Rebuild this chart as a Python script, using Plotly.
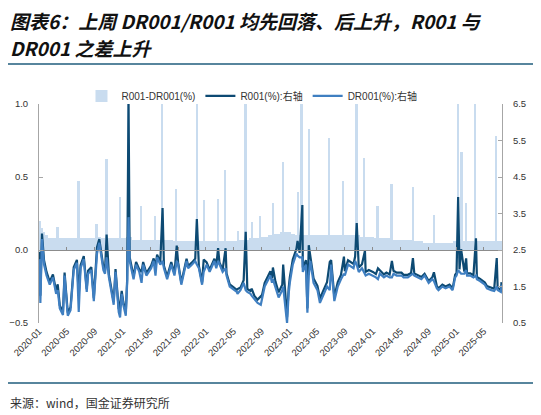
import pandas as pd
import plotly.graph_objects as go

dates = [
    # 2020
    "2020-01-02", "2020-01-07", "2020-01-14", "2020-01-23", "2020-02-03", "2020-02-17", "2020-03-02",
    "2020-03-16", "2020-03-23", "2020-04-01", "2020-04-15", "2020-04-22", "2020-05-06", "2020-05-18",
    "2020-06-01", "2020-06-15", "2020-06-23", "2020-07-01", "2020-07-15", "2020-07-28", "2020-08-03",
    "2020-08-17", "2020-08-28", "2020-09-11", "2020-09-21", "2020-10-09", "2020-10-16", "2020-10-23",
    "2020-11-02", "2020-11-16", "2020-11-23", "2020-12-01", "2020-12-15", "2020-12-21", "2020-12-28",
    # 2021
    "2021-01-04", "2021-01-15", "2021-01-21", "2021-01-27", "2021-02-01", "2021-02-18", "2021-03-01",
    "2021-03-15", "2021-03-25", "2021-04-01", "2021-04-15", "2021-05-06", "2021-05-17", "2021-05-25",
    "2021-06-01", "2021-06-15", "2021-06-25", "2021-07-01", "2021-07-15", "2021-08-02", "2021-08-16",
    "2021-08-26", "2021-09-01", "2021-09-15", "2021-10-08", "2021-10-15", "2021-11-01", "2021-11-15",
    "2021-11-22", "2021-12-01", "2021-12-15", "2021-12-22",
    # 2022
    "2022-01-04", "2022-01-17", "2022-02-07", "2022-02-15", "2022-02-23", "2022-03-01", "2022-03-15",
    "2022-03-28", "2022-04-01", "2022-04-15", "2022-05-05", "2022-05-16", "2022-05-19", "2022-06-01",
    "2022-06-15", "2022-06-24", "2022-07-01", "2022-07-15", "2022-07-20", "2022-08-01", "2022-08-15",
    "2022-08-29", "2022-09-01", "2022-09-15", "2022-10-10", "2022-10-17", "2022-10-21", "2022-11-01",
    "2022-11-15", "2022-12-01", "2022-12-05", "2022-12-15", "2022-12-22", "2022-12-29",
    # 2023
    "2023-01-03", "2023-01-16", "2023-02-01", "2023-02-06", "2023-02-15", "2023-02-27", "2023-03-01",
    "2023-03-15", "2023-03-21", "2023-03-27", "2023-04-03", "2023-04-17", "2023-05-04", "2023-05-15",
    "2023-06-01", "2023-06-15", "2023-06-27", "2023-07-03", "2023-07-17", "2023-08-01", "2023-08-15",
    "2023-08-28", "2023-09-01", "2023-09-15", "2023-10-09", "2023-10-16", "2023-10-23", "2023-11-01",
    "2023-11-15", "2023-11-28", "2023-12-01", "2023-12-15",
    # 2024
    "2024-01-02", "2024-01-15", "2024-01-24", "2024-02-01", "2024-02-19", "2024-03-01", "2024-03-15",
    "2024-03-25", "2024-04-01", "2024-04-15", "2024-05-06", "2024-05-15", "2024-06-03", "2024-06-17",
    "2024-06-25", "2024-07-01", "2024-07-15", "2024-08-01", "2024-08-15", "2024-09-02", "2024-09-18",
    "2024-09-25", "2024-10-08", "2024-10-15", "2024-11-01", "2024-11-15", "2024-12-02", "2024-12-16",
    "2024-12-27",
    # 2025
    "2025-01-02", "2025-01-09", "2025-01-15", "2025-01-22", "2025-02-05", "2025-02-13", "2025-02-17",
    "2025-03-03", "2025-03-17", "2025-03-28", "2025-04-01", "2025-04-15", "2025-05-06", "2025-05-15",
    "2025-06-03", "2025-06-16", "2025-06-27", "2025-07-01", "2025-07-15", "2025-07-18",
]

dr001 = [
    2.25, 1.05, 2.80, 2.10, 1.80, 1.55, 1.75, 1.30, 1.40, 0.90, 0.72, 1.80, 0.70, 0.85,
    1.95, 2.15, 0.80, 2.00, 2.25, 1.35, 1.85, 1.95, 1.10, 2.40, 2.70, 1.95, 1.85, 2.30,
    1.75, 1.30, 1.00, 1.90, 0.80, 0.65, 1.30,
    1.00, 0.70, 1.60, 3.40, 2.20, 1.70, 2.10, 1.90, 1.60, 2.10, 1.80, 2.00, 2.20, 1.80,
    2.30, 2.10, 2.20, 2.00, 1.70, 2.10, 1.80, 2.20, 2.10, 1.55, 2.20, 2.00, 2.10, 2.20,
    2.10, 2.00, 1.55, 1.90,
    2.10, 1.90, 2.20, 2.00, 2.20, 2.10, 1.90, 2.00, 1.80, 1.50, 1.40, 1.35, 1.30, 1.40,
    1.60, 1.40, 1.35, 1.30, 1.25, 1.15, 1.05, 1.00, 1.10, 1.50, 1.80, 1.60, 1.70, 1.50,
    1.20, 1.40, 1.50, 0.90, 0.50, 1.30,
    1.60, 2.10, 2.40, 2.35, 2.30, 2.30, 1.90, 2.10, 0.78, 1.80, 2.20, 1.60, 1.40, 1.05,
    1.30, 1.50, 1.40, 2.10, 1.10, 1.50, 1.70, 1.85, 1.80, 2.10, 2.00, 2.20, 2.10, 1.90,
    2.00, 1.85, 1.80, 1.85,
    1.80, 1.75, 1.70, 1.85, 1.75, 1.80, 1.75, 1.75, 1.85, 1.80, 1.80, 1.75, 1.75, 1.80,
    1.85, 1.80, 1.75, 1.70, 1.80, 1.60, 1.70, 1.65, 1.45, 1.40, 1.50, 1.45, 1.50, 1.40,
    1.75,
    1.80, 1.95, 1.90, 1.85, 1.85, 1.95, 1.80, 1.80, 1.75, 1.80, 1.70, 1.65, 1.55, 1.45,
    1.40, 1.38, 1.50, 1.40, 1.35, 1.55,
]

r001 = [
    2.45, 1.25, 2.95, 2.22, 1.90, 1.63, 1.83, 1.38, 1.56, 0.98, 0.80, 1.88, 0.78, 0.93,
    2.03, 2.23, 1.27, 2.08, 2.33, 1.43, 1.93, 2.03, 1.18, 2.58, 2.80, 2.03, 1.93, 2.92,
    1.83, 1.38, 1.08, 1.98, 0.88, 1.01, 1.38,
    1.08, 0.78, 1.70, 6.60, 2.30, 1.78, 2.17, 1.97, 1.90, 2.17, 1.87, 2.07, 2.27, 2.03,
    2.37, 2.17, 3.65, 2.07, 1.77, 2.17, 1.86, 2.62, 2.16, 1.61, 2.26, 2.06, 2.16, 2.26,
    3.35, 2.06, 1.61, 2.24,
    2.16, 1.96, 2.26, 2.06, 2.55, 2.16, 1.96, 2.55, 1.86, 1.56, 1.46, 1.41, 1.43, 1.47,
    1.67, 3.00, 1.43, 1.38, 1.44, 1.24, 1.14, 1.23, 1.20, 1.60, 1.92, 1.72, 2.02, 1.64,
    1.34, 1.55, 2.10, 1.06, 0.66, 1.45,
    1.75, 2.24, 2.53, 2.75, 2.42, 3.73, 2.02, 2.22, 0.90, 2.63, 2.32, 1.72, 1.52, 1.17,
    1.42, 1.62, 2.17, 2.22, 1.22, 1.62, 1.82, 2.32, 1.92, 2.22, 2.12, 2.32, 3.24, 2.02,
    2.11, 2.48, 1.90, 1.95,
    1.90, 1.84, 2.00, 1.94, 1.83, 1.88, 1.83, 2.20, 1.93, 1.88, 1.88, 1.82, 1.82, 1.87,
    2.28, 1.86, 1.81, 1.76, 1.85, 1.65, 1.75, 1.89, 1.50, 1.45, 1.55, 1.50, 1.55, 1.45,
    1.82,
    1.87, 3.95, 1.97, 2.52, 1.91, 2.27, 1.86, 1.86, 1.81, 2.82, 1.76, 1.71, 1.61, 1.51,
    1.46, 1.44, 2.28, 1.46, 1.41, 1.62,
]

spread = [
    0.20, 0.20, 0.15, 0.12, 0.10, 0.08, 0.08, 0.08, 0.16, 0.08, 0.08, 0.08, 0.08, 0.08,
    0.08, 0.08, 0.47, 0.08, 0.08, 0.08, 0.08, 0.08, 0.08, 0.18, 0.09, 0.08, 0.08, 0.62,
    0.08, 0.08, 0.08, 0.08, 0.08, 0.36, 0.08,
    0.08, 0.08, 0.09, 3.20, 0.09, 0.07, 0.07, 0.07, 0.30, 0.07, 0.07, 0.07, 0.07, 0.23,
    0.07, 0.07, 1.45, 0.07, 0.07, 0.07, 0.06, 0.42, 0.06, 0.06, 0.06, 0.06, 0.06, 0.06,
    1.25, 0.06, 0.06, 0.34,
    0.06, 0.06, 0.06, 0.06, 0.35, 0.06, 0.06, 0.55, 0.06, 0.06, 0.06, 0.06, 0.13, 0.07,
    0.07, 1.60, 0.07, 0.08, 0.19, 0.08, 0.08, 0.23, 0.09, 0.09, 0.10, 0.10, 0.32, 0.11,
    0.11, 0.12, 0.60, 0.12, 0.12, 0.12,
    0.12, 0.11, 0.10, 0.40, 0.10, 1.43, 0.10, 0.10, 0.10, 0.83, 0.10, 0.10, 0.10, 0.10,
    0.10, 0.10, 0.77, 0.10, 0.10, 0.10, 0.10, 0.47, 0.10, 0.10, 0.10, 0.10, 1.14, 0.10,
    0.09, 0.63, 0.09, 0.09,
    0.09, 0.08, 0.30, 0.08, 0.08, 0.08, 0.08, 0.45, 0.07, 0.07, 0.07, 0.07, 0.07, 0.07,
    0.43, 0.06, 0.06, 0.06, 0.05, 0.05, 0.05, 0.24, 0.05, 0.05, 0.05, 0.05, 0.05, 0.05,
    0.06,
    0.06, 2.00, 0.06, 0.67, 0.06, 0.32, 0.06, 0.06, 0.06, 1.02, 0.06, 0.06, 0.06, 0.06,
    0.06, 0.06, 0.78, 0.06, 0.06, 0.06,
]

tick_dates = pd.date_range("2020-01-01", "2025-05-01", freq="4MS")
tick_text = [d.strftime("%Y-%m") for d in tick_dates]

C_SPREAD = "#c9dcef"
C_R001 = "#0d4a73"
C_DR001 = "#3f7fc1"
C_RULE = "#1f5d7c"
FONT = "Liberation Sans, Arial, Noto Sans CJK SC"

# bars tile the time line: each one spans half way to its neighbours
dt = pd.to_datetime(dates)
ms = dt.astype("int64") // 10**6
day = 86400000
left = [(ms[i] - ms[i - 1]) / 2 if i > 0 else day for i in range(len(ms))]
right = [(ms[i + 1] - ms[i]) / 2 if i < len(ms) - 1 else day for i in range(len(ms))]
widths = [l + r for l, r in zip(left, right)]
offsets = [-l for l in left]

fig = go.Figure()
fig.add_trace(go.Bar(
    x=dt, y=spread, width=widths, offset=offsets, name="R001-DR001(%)",
    marker=dict(color=C_SPREAD, line=dict(width=0)), xaxis="x", yaxis="y",
))
fig.add_trace(go.Scatter(
    x=dt, y=r001, mode="lines", name="R001(%):右轴",
    line=dict(color=C_R001, width=2.2), xaxis="x2", yaxis="y2",
))
fig.add_trace(go.Scatter(
    x=dt, y=dr001, mode="lines", name="DR001(%):右轴",
    line=dict(color=C_DR001, width=2.2), xaxis="x2", yaxis="y2",
))

# the page body has an 8px margin, so the figure is 8px smaller than the window
xrange_ = ["2020-01-01", "2025-07-20"]
fig.update_layout(
    width=533, height=407,
    margin=dict(l=31, r=39, t=96, b=92),
    paper_bgcolor="white", plot_bgcolor="white",
    font=dict(family=FONT, size=10, color="#333333"),
    bargap=0, showlegend=True, hovermode=False,
    xaxis=dict(
        type="date", range=xrange_, tickvals=tick_dates, ticktext=tick_text,
        tickangle=-45, tickfont=dict(size=9.5, color="#333333"),
        showline=False, ticks="", showgrid=False, zeroline=False, automargin=False,
    ),
    xaxis2=dict(
        type="date", matches="x", overlaying="x", anchor="free", position=1 / 3,
        tickvals=tick_dates, showticklabels=False, showline=True, linecolor="#8c8c8c",
        linewidth=1, ticks="inside", ticklen=3, tickcolor="#8c8c8c", showgrid=False,
        zeroline=False,
    ),
    yaxis=dict(
        range=[-0.5, 1.0], dtick=0.5, tickformat=".1f", showgrid=False, zeroline=False,
        showline=True, linecolor="#a6a6a6", ticks="inside", ticklen=4, tickcolor="#a6a6a6",
        ticklabelstandoff=8, tickfont=dict(size=9.5, color="#333333"), automargin=False,
    ),
    yaxis2=dict(
        range=[0.5, 6.5], tick0=0.5, dtick=1, tickformat=".1f", overlaying="y", side="right",
        anchor="x", showgrid=False, zeroline=False, showline=True, linecolor="#a6a6a6",
        ticks="inside", ticklen=4, tickcolor="#a6a6a6", ticklabelstandoff=8,
        tickfont=dict(size=9.5, color="#333333"), automargin=False,
    ),
    legend=dict(
        orientation="h", x=0.46, xanchor="center", y=1.037, yanchor="middle",
        font=dict(size=10, color="#333333"), bgcolor="rgba(0,0,0,0)", itemwidth=30,
        tracegroupgap=0,
    ),
)

title_font = dict(family="Noto Sans CJK SC", size=19, color="#111111", weight="bold", style="italic")
fig.add_annotation(text="图表6：上周 DR001/R001 均先回落、后上升，R001 与", xref="paper", yref="paper",
                   x=-0.067, y=1.382, xanchor="left", yanchor="middle", showarrow=False, font=title_font)
fig.add_annotation(text="DR001 之差上升", xref="paper", yref="paper",
                   x=-0.067, y=1.258, xanchor="left", yanchor="middle", showarrow=False, font=title_font)
fig.add_annotation(text="来源：wind，国金证券研究所", xref="paper", yref="paper",
                   x=-0.067, y=-0.361, xanchor="left", yanchor="middle", showarrow=False,
                   font=dict(family="Noto Sans CJK SC", size=12, color="#333333"))

for yy in (1.183, -0.274):
    fig.add_shape(type="line", xref="paper", yref="paper", x0=-0.075, x1=1.09, y0=yy, y1=yy,
                  line=dict(color=C_RULE, width=1.5))

fig.write_html("out.html")
